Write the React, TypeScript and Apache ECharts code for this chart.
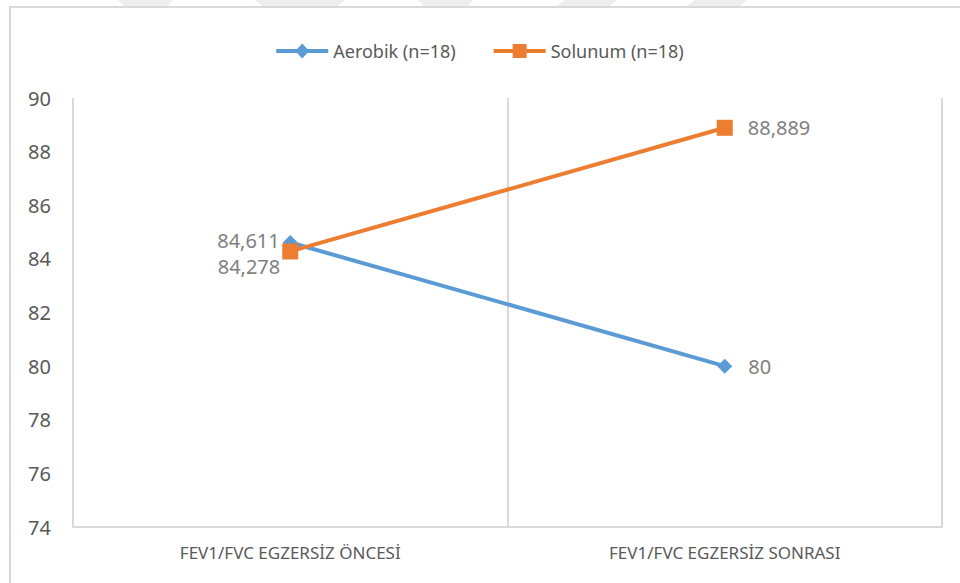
import React, { useEffect, useRef } from "react";
import * as echarts from "echarts";

const categories = ["FEV1/FVC EGZERSİZ ÖNCESİ", "FEV1/FVC EGZERSİZ SONRASI"];
const aerobikName = "Aerobik (n=18)";
const solunumName = "Solunum (n=18)";
const aerobikValues = [84.611, 80];
const solunumValues = [84.278, 88.889];
const yMin = 74;
const yMax = 90;
const yStep = 2;

const fmt = (v: number) => String(v).replace(".", ",");

const diamondIcon = "path://M0,5.5 L52,5.5 L52,9.5 L0,9.5 Z M26,0 L33,7.5 L26,15 L19,7.5 Z";
const squareIcon = "path://M0,5.5 L52,5.5 L52,9.5 L0,9.5 Z M19,0.5 L33,0.5 L33,14.5 L19,14.5 Z";

export default function App() {
  const ref = useRef<HTMLDivElement>(null);
  useEffect(() => {
    if (!ref.current) return;
    const chart = echarts.init(ref.current, undefined, { renderer: "svg" });
    const font = "'Noto Sans', 'Open Sans', sans-serif";
    const labelStyle = { color: "#7f7f7f", fontSize: 20, lineHeight: 22, fontFamily: font };
    chart.setOption({
      animation: false,
      backgroundColor: "#ffffff",
      textStyle: { fontFamily: font },
      graphic: [
        { type: "polygon", shape: { points: [[118, 0], [173, 0], [168, 6], [124, 6]] }, style: { fill: "#eeeeee" }, silent: true },
        { type: "polygon", shape: { points: [[255, 0], [345, 0], [338, 6], [262, 6]] }, style: { fill: "#eeeeee" }, silent: true },
        { type: "polygon", shape: { points: [[418, 0], [473, 0], [468, 6], [424, 6]] }, style: { fill: "#eeeeee" }, silent: true },
        { type: "polygon", shape: { points: [[565, 0], [617, 0], [610, 6], [557, 6]] }, style: { fill: "#eeeeee" }, silent: true },
        { type: "polygon", shape: { points: [[695, 0], [747, 0], [740, 6], [687, 6]] }, style: { fill: "#eeeeee" }, silent: true },
        { type: "rect", shape: { x: 10, y: 7, width: 980, height: 600 }, style: { fill: "none", stroke: "#d9d9d9", lineWidth: 2 }, silent: true, z: -1 },
      ],
      legend: {
        top: 37,
        left: "center",
        itemWidth: 52,
        itemHeight: 15,
        itemGap: 38,
        textStyle: { color: "#595959", fontSize: 18, fontFamily: font },
        data: [
          { name: aerobikName, icon: diamondIcon },
          { name: solunumName, icon: squareIcon },
        ],
      },
      grid: { left: 73, right: 18, top: 98, bottom: 56, containLabel: false },
      xAxis: {
        type: "category",
        data: categories,
        boundaryGap: true,
        axisLine: { show: true, lineStyle: { color: "#d9d9d9", width: 2 } },
        axisTick: { show: false },
        splitLine: { show: true, lineStyle: { color: "#d9d9d9", width: 2 } },
        axisLabel: { color: "#595959", fontSize: 17, margin: 17, fontFamily: font },
      },
      yAxis: {
        type: "value",
        min: yMin,
        max: yMax,
        interval: yStep,
        axisLine: { show: false },
        axisTick: { show: false },
        splitLine: { show: false },
        axisLabel: { color: "#595959", fontSize: 20, margin: 22, fontFamily: font },
      },
      series: [
        {
          name: aerobikName,
          type: "line",
          symbol: "diamond",
          symbolSize: 15,
          color: "#5b9bd5",
          lineStyle: { width: 4, color: "#5b9bd5" },
          itemStyle: { color: "#5b9bd5" },
          label: { show: true, ...labelStyle, formatter: (p: any) => fmt(p.value) },
          data: [
            { value: aerobikValues[0], label: { position: "left", distance: 3, offset: [0, -2] } },
            { value: aerobikValues[1], label: { position: "right", distance: 16 } },
          ],
        },
        {
          name: solunumName,
          type: "line",
          symbol: "rect",
          symbolSize: 16,
          color: "#ed7d31",
          lineStyle: { width: 4, color: "#ed7d31" },
          itemStyle: { color: "#ed7d31" },
          label: { show: true, ...labelStyle, formatter: (p: any) => fmt(p.value) },
          data: [
            { value: solunumValues[0], label: { position: "left", distance: 2, offset: [0, 15] } },
            { value: solunumValues[1], label: { position: "right", distance: 15 } },
          ],
        },
      ],
    });
    return () => chart.dispose();
  }, []);
  return <div ref={ref} style={{ width: 960, height: 583, position: "absolute", left: 0, top: 0 }} />;
}
